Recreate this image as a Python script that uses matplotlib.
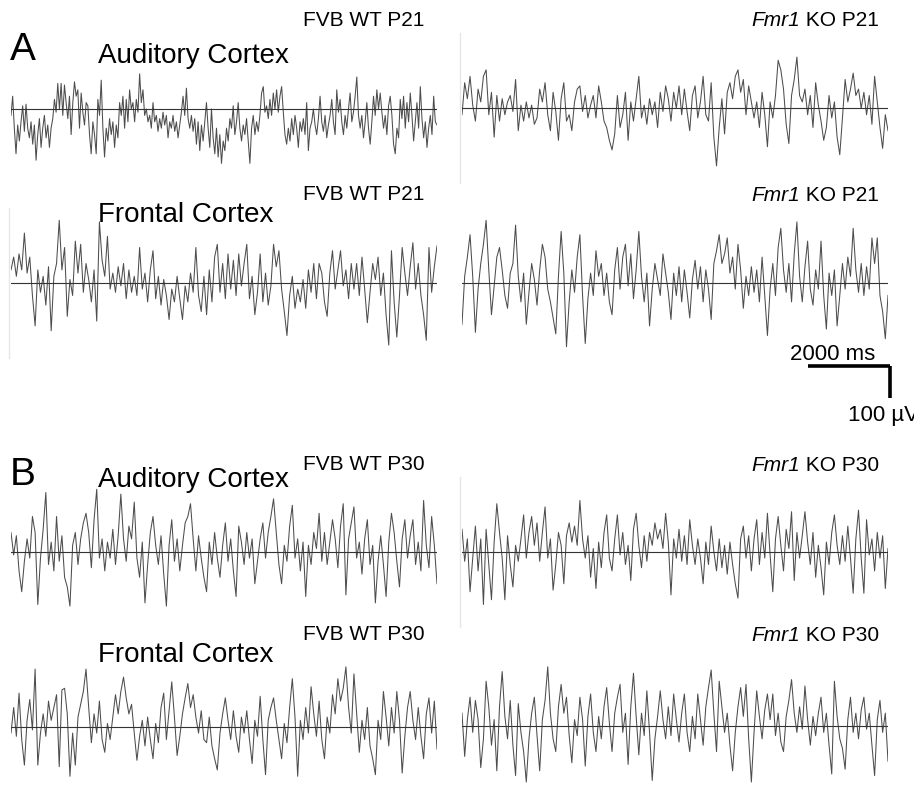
import numpy as np
import matplotlib.pyplot as plt

plt.rcParams['font.family'] = ['Liberation Sans', 'DejaVu Sans']

# EEG segments, microvolts, sampled evenly over each recording window
DURATION_MS = 10400

aud_wt_p21 = [-20, 40, -60, -140, -50, -100, -40, 10, -70, 15, -60, -90, -40, -110, -50, -160,
              -80, -30, -120, -60, -20, -90, -50, -120, -60, -30, 30, -10, 80, 0, 80, -20,
              75, 20, -30, 40, -80, 20, 85, 40, 60, -60, 50, -10, -50, 20, 10, -80,
              -140, -40, -80, -140, 30, -20, 90, -60, -150, -60, -100, -30, -80, -40, -120, -50,
              -90, 20, -20, 40, -60, 30, -40, 60, 0, 20, -40, 30, -10, 110, 20, 60,
              -20, 0, -40, -20, -60, 20, -40, -20, -70, -30, -60, -10, -50, -20, -90, -40,
              -60, -20, -70, -40, -90, -50, -10, 40, -20, 65, -30, -60, -20, -70, -30, -110,
              -40, -130, -50, -100, -40, 20, -60, -120, 0, -90, -140, -60, -150, -80, -170, -100,
              -130, -60, -100, -30, -60, 10, -80, -40, 20, -60, -100, -50, -80, -30, -100, -170,
              -60, -20, -80, -40, -70, -20, 50, 70, -10, 10, -30, 30, -20, 50, 0, 60,
              -10, 40, 70, -10, -80, -110, -60, -100, -30, -80, -20, -60, -120, -40, -70, -30,
              -80, 20, -130, -60, -40, 0, -50, -80, -30, 40, -40, -70, -20, -90, -50, -20,
              30, -40, -80, 60, -10, 30, -40, -80, -20, -60, 0, 50, -40, -10, 40, 100,
              -20, -60, -20, -90, -40, 20, -60, -110, -40, 40, -20, 60, 0, 50, -10, -60,
              -20, -80, 10, 40, -20, -110, -140, -60, -90, 30, -30, 40, -60, 20, -40, 50,
              -20, -100, -40, 20, -60, 70, -30, -90, -40, -120, -60, -20, -80, 40, -40, -50]

aud_ko_p21 = [-20, 80, 30, 100, 10, -40, 60, 20, 100, 120, -20, 50, -90, 40, -40, 30,
              -20, 20, 40, -10, 90, -70, 10, -40, 20, -30, 10, -50, -30, 60, 20, 80,
              -20, -70, 50, -10, -100, 30, 80, -40, -20, -70, 20, 60, 70, -10, 40, -30,
              10, 40, -30, 70, 20, -40, -60, -100, -130, -80, 40, -60, -20, 50, -100, 20,
              -40, 30, 100, -30, 10, -50, 30, -20, 20, -60, 50, -10, 70, 30, -40, 50,
              0, 70, -20, 60, -10, -70, 40, 70, -30, 20, 100, -20, -40, 80, -90, -180,
              -60, 30, -80, 50, 80, 30, 100, 120, 50, 90, -20, 70, 20, -30, 20, -60,
              50, -20, -120, 20, -30, 40, 150, 120, 60, -50, -110, 40, 90, 160, 40, 20,
              60, -20, 40, -60, 80, 10, -40, -100, -60, 40, -30, 20, -90, -145, -30, 90,
              20, 60, 110, 40, 60, 0, 50, -20, 40, -50, 100, 20, -60, -125, -20, -70]

front_wt_p21 = [40, 80, 20, 90, 40, 155, 30, 80, -40, -135, 40, -30, 20, -70, 50, -150,
                20, 60, 195, 40, 110, -105, 10, -40, 130, 30, 120, -30, 60, 10, -60, 40,
                -120, 190, 70, 20, 145, -20, 30, -30, 50, -10, 60, -50, 40, -30, 20, -40,
                110, -20, 30, -60, 40, 100, -50, 20, -70, 10, -40, -115, -20, -60, 20, -50,
                -115, -10, -60, 30, -30, 110, -40, -90, 20, -100, 40, -60, 80, 120, -30, 60,
                -50, 90, -20, 70, -40, 90, -10, 60, 120, -50, 20, -100, -30, 90, -60, 30,
                -70, -10, 120, 50, 100, -20, -90, -165, -40, 20, -80, -20, -60, 10, -80, 40,
                -30, 60, -50, 60, 30, -60, -105, 30, 100, -20, 40, 100, -10, 40, -50, 60,
                -20, 60, -40, 80, -20, -125, -30, 60, 10, 80, -40, 30, -100, -195, 100, -60,
                -170, -40, 110, 30, -40, 50, 125, -20, 60, -40, -100, -180, 110, -30, 50, 115]

front_ko_p21 = [-130, 20, 80, 150, 20, -155, -20, 60, 120, 195, 40, -100, -10, 80, 110, 40,
                -40, -80, 30, 60, 180, 20, -60, 30, -130, -30, 60, 10, -70, 40, 120, 80,
                -20, -60, -110, -160, 20, 160, 30, -200, -60, 40, -30, 80, 150, -40, -190, -50,
                30, -40, 100, 20, 60, -40, 30, -60, -100, 40, 110, -20, 80, 120, -10, 90,
                -50, 40, 160, 20, -60, 30, -135, -20, 60, 10, -40, 90, 30, -30, -115, 30,
                -40, 50, -60, 40, -30, -110, 10, 70, -20, 50, -60, 40, -20, -115, 60, 100,
                150, 60, 90, 140, 30, 80, -20, 120, 40, -80, 20, -40, 50, -30, 40, -60,
                80, -40, -165, -20, 60, -40, 110, 170, 40, -30, 60, -60, 90, 190, 20, -60,
                50, 130, -20, -70, 40, -20, 130, -40, -145, 30, -40, 40, -135, -40, 60, -20,
                80, 20, 170, 40, -30, 60, -40, 50, -20, 140, 60, 140, -40, -90, -175, -40]

aud_wt_p30 = [60, -10, 50, -60, -125, -30, 40, -20, 110, 60, -165, -20, 70, 185, -40, 30,
              -60, 110, -30, 50, -80, -110, -170, 20, 60, -40, 40, 90, 120, 60, -50, 100,
              195, -20, 40, -60, 30, -20, 70, -40, 50, 180, 40, -30, 80, 40, 155, -20,
              -80, 30, -160, -40, 60, 110, 20, -40, 50, -70, -170, 20, 100, -30, 40, -60,
              20, 90, 110, 150, 40, -60, 50, -20, -80, -125, 30, -40, 60, -20, -80, 20,
              90, -30, 40, -60, -140, 80, 30, -40, 60, -20, 40, -100, -30, 40, 90, -20,
              60, 110, 165, 60, -40, -100, 20, -30, 80, 145, -20, 40, -60, 30, -140, 20,
              -40, 60, 10, 120, -30, 60, -40, 30, 100, 40, -50, 80, 150, -135, 40, 90,
              140, -20, 30, -70, 40, 100, -40, 20, -160, -30, 50, -40, -140, 30, 120, 60,
              -30, -110, 40, 100, -20, 50, 100, -40, 30, -60, 160, 20, -50, 110, 20, -100]

aud_ko_p30 = [70, -30, 40, -125, -20, 80, -60, 40, -165, 70, -40, -150, 30, 150, 60, -20,
              -150, 50, -40, -110, 20, -30, 40, 115, -20, 60, 110, 20, 90, -30, 60, 140,
              -20, 40, -120, -40, 60, 20, -100, 50, 90, 30, 80, 20, 160, 40, -20, 50,
              -80, 10, -115, 30, -50, 60, 115, -20, -60, 40, 115, -10, 60, -40, 20, -90,
              70, 120, 20, -50, 50, -30, 60, 20, 90, 40, 70, 10, 120, 30, -135, 40,
              -20, 70, -30, 50, -40, 100, 20, -40, 40, -20, -100, 30, -40, 80, 0, -60,
              40, -50, 20, -70, 30, -40, -100, -145, 40, 80, -20, 50, -60, 40, 100, -40,
              60, -20, 120, -10, -125, 40, 110, 20, -60, 70, 10, 125, -90, 60, -20, 50,
              125, 30, -40, 60, -80, 20, -50, -135, 30, -40, 60, 115, 20, -40, 50, -30,
              80, -20, -130, 40, 130, -20, -130, 100, -10, 40, -60, 60, -20, 50, -115, 10]

front_wt_p30 = [-20, 60, -30, 105, -40, -120, 20, 85, -10, 180, -120, -20, 40, -30, 80, 20,
                60, 100, -125, 115, 120, 40, -155, -20, -120, 30, 70, 110, 180, 60, -50, 40,
                -20, 80, -40, -80, 10, -40, 30, 100, 40, 110, 155, 90, 40, 70, -20, -105,
                -30, 20, -60, 30, -40, -100, 10, -50, 60, 105, -40, 50, 140, 30, -90, -30,
                40, 90, 135, 60, 100, 30, -20, 50, -40, -50, 30, -60, -100, -135, -20, 40,
                90, 20, -40, 50, -30, -80, 30, -20, 50, -40, -115, 20, -30, 95, -40, -150,
                20, 60, 90, 20, -40, -100, 10, -50, 60, 150, 30, -155, 20, -40, 60, -20,
                125, 40, -30, 80, -40, -100, 30, -20, 100, 40, 150, 80, 120, 187, 60, -20,
                165, 40, -80, 20, -40, 60, -60, -100, -150, 20, -40, 110, 30, -60, 60, -20,
                110, 20, -145, -30, 60, 110, 20, -40, 60, -30, -100, 40, 90, -20, 80, -70]

front_ko_p30 = [40, -95, 20, 90, -20, 80, 20, -130, -40, 140, 60, -60, 20, -140, 60, 170,
                30, -40, 80, -60, -155, 70, -20, -80, -175, -40, 40, 90, -30, -140, 20, 80,
                185, 40, -40, -80, 60, 130, 40, 90, -30, -115, 20, -30, 90, 20, -125, 30,
                100, -20, -80, 30, -40, 60, 120, 10, -80, 40, 90, 130, -20, 40, -120, 60,
                165, 30, -90, 40, -30, 110, -20, -170, -40, 30, 110, 20, -40, 60, -30, 100,
                20, -50, 40, 100, -20, -80, 30, -40, 100, 20, -60, 60, 120, 175, 40, -80,
                140, 60, -20, 40, -60, -140, -20, 60, 120, 30, 130, -40, -175, -20, 110, 30,
                -40, 50, 100, 20, 100, -30, 40, -50, -80, 30, 80, 145, 40, -20, 60, -10,
                125, 20, -60, 30, -30, 40, 90, -20, 40, -60, -150, 140, 30, -40, -70, -135,
                20, 90, -20, 40, -40, 50, 90, -10, 40, -60, -155, 20, 80, -20, 40, -110]

group_titles = ['FVB WT P21', 'KO P21', 'FVB WT P30', 'KO P30']
region_names = ['Auditory Cortex', 'Frontal Cortex']
panel_letters = ['A', 'B']

SCALE_MS = 2000
SCALE_UV = 100

W, H = 914, 795
PX_PER_UV = 0.32
TRACE_W = 426
HALF_H = 75


def px_axes(fig, x, y_base):
    # axes centred on a trace baseline, given in pixel coordinates
    return fig.add_axes([x / W, 1 - (y_base + HALF_H) / H, TRACE_W / W, 2 * HALF_H / H])


def draw_trace(ax, values, edge=False):
    values = np.asarray(values, dtype=float)
    t = np.linspace(0, DURATION_MS, len(values))
    lim = HALF_H / PX_PER_UV
    ax.plot(t, values, color='#4d4d4d', lw=0.75)
    ax.axhline(0, color='#333333', lw=0.8)
    ax.set_xlim(0, DURATION_MS * TRACE_W / 426)
    ax.set_ylim(-lim, lim)
    ax.set_axis_off()
    if edge:
        ax.axvline(-60, color='#e6e6e6', lw=1, clip_on=False)


fig = plt.figure(figsize=(W / 100, H / 100), dpi=100)

rows = [
    (aud_wt_p21, aud_ko_p21, 109, 108.3),
    (front_wt_p21, front_ko_p21, 282.7, 282.7),
    (aud_wt_p30, aud_ko_p30, 551.7, 551.7),
    (front_wt_p30, front_ko_p30, 726.7, 726),
]
axes = []
for i, (wt, ko, yb_wt, yb_ko) in enumerate(rows):
    a1 = px_axes(fig, 11, yb_wt)
    draw_trace(a1, wt, edge=(i == 1))
    a2 = px_axes(fig, 462, yb_ko)
    draw_trace(a2, ko, edge=(i in (0, 2)))
    axes.append((a1, a2))

# calibration bar, drawn in the units of the frontal KO P21 trace
cal = axes[1][1]
x_end = 10450
y_top = -260
cal.plot([x_end - SCALE_MS, x_end], [y_top, y_top], color='black', lw=2.6,
         clip_on=False, solid_capstyle='butt')
cal.plot([x_end, x_end], [y_top, y_top - SCALE_UV], color='black', lw=2.6,
         clip_on=False, solid_capstyle='butt')

# labels on an overlay in pixel units
ov = fig.add_axes([0, 0, 1, 1])
ov.set_xlim(0, W)
ov.set_ylim(H, 0)
ov.set_axis_off()

cal_ms = ov.text(790, 360, f'{SCALE_MS} ms', fontsize=16, va='baseline')
ov.text(848, 421, f'{SCALE_UV} µV', fontsize=16, va='baseline')


def ko_label(x, y, tail):
    t1 = ov.text(x, y, 'Fmr1', fontsize=15, style='italic', va='baseline')
    ov.annotate(' ' + tail, xy=(1, 0), xycoords=t1, fontsize=15, va='bottom', ha='left')


label_rows = [
    (26, 63, 201, 222),
    (470, 487, 641, 662),
]
for k, (y_hdr1, y_reg1, y_hdr2, y_reg2) in enumerate(label_rows):
    wt_title = group_titles[2 * k]
    ko_tail = group_titles[2 * k + 1]
    ov.text(10, y_reg1 - 3 if k == 0 else y_reg1 - 2, panel_letters[k], fontsize=28, va='baseline')
    ov.text(98, y_reg1, region_names[0], fontsize=20, va='baseline')
    ov.text(303, y_hdr1, wt_title, fontsize=15, va='baseline')
    ko_label(751, y_hdr1 + (1 if k else 0), ko_tail)
    ov.text(98, y_reg2, region_names[1], fontsize=20, va='baseline')
    ov.text(303, y_hdr2 - 1, wt_title, fontsize=15, va='baseline')
    ko_label(751, y_hdr2, ko_tail)

fig.savefig('out.png', dpi=100)
